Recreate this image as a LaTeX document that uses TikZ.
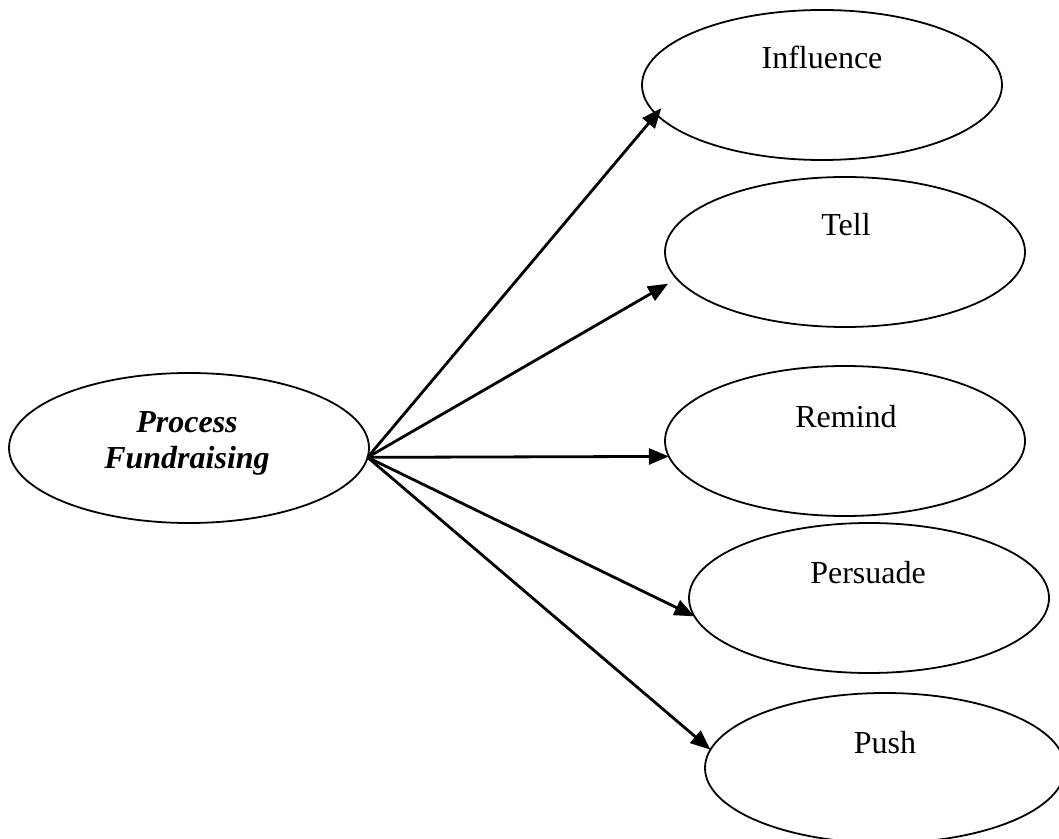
\documentclass[tikz,border=0pt]{standalone}
\usepackage{fontspec}
\setmainfont{Liberation Serif}
\usetikzlibrary{shapes.geometric,arrows.meta}
\tikzset{
  oval/.style={draw,ellipse,line width=0.9pt,minimum width=180pt,minimum height=75pt,inner sep=0pt,outer sep=0pt},
  yaji/.style={-{Triangle[length=10pt,width=8pt]},line width=1.4pt},
  moji/.style={anchor=base,inner sep=0pt},
}
\begin{document}
\begin{tikzpicture}[x=0.5pt,y=-0.5pt,font=\fontsize{16}{18.5}\selectfont]
        \useasboundingbox (0,0) rectangle (1059,839);
        % 楕円
        \node[oval] (PF) at (189,448) {};
        \node[oval] (I) at (822,85) {};
        \node[oval] (T) at (845,252) {};
        \node[oval] (R) at (845,441) {};
        \node[oval] (Pe) at (869,598) {};
        \node[oval] (Pu) at (885,768) {};
        % 文字
        \node[moji,font=\fontsize{16}{18.5}\selectfont\bfseries\itshape] (PFa) at (187,432) {Process};
        \node[moji,font=\fontsize{16}{18.5}\selectfont\bfseries\itshape] (PFb) at (187,468) {Fundraising};
        \node[moji] (It) at (822,69) {Influence};
        \node[moji] (Tt) at (846,236) {Tell};
        \node[moji] (Rt) at (846,427) {Remind};
        \node[moji] (Pet) at (868,583) {Persuade};
        \node[moji] (Put) at (885,753) {Push};
        % 矢印
        \draw[yaji,shorten >=-4pt] (PF.357) --(I.190);
        \draw[yaji,shorten >=5pt] (PF.357) --(T.189);
        \draw[yaji] (PF.357) --(R.185);
        \draw[yaji] (PF.357) --(Pe.186);
        \draw[yaji] (PF.357) --(Pu.174);
    \end{tikzpicture}
\end{document}
